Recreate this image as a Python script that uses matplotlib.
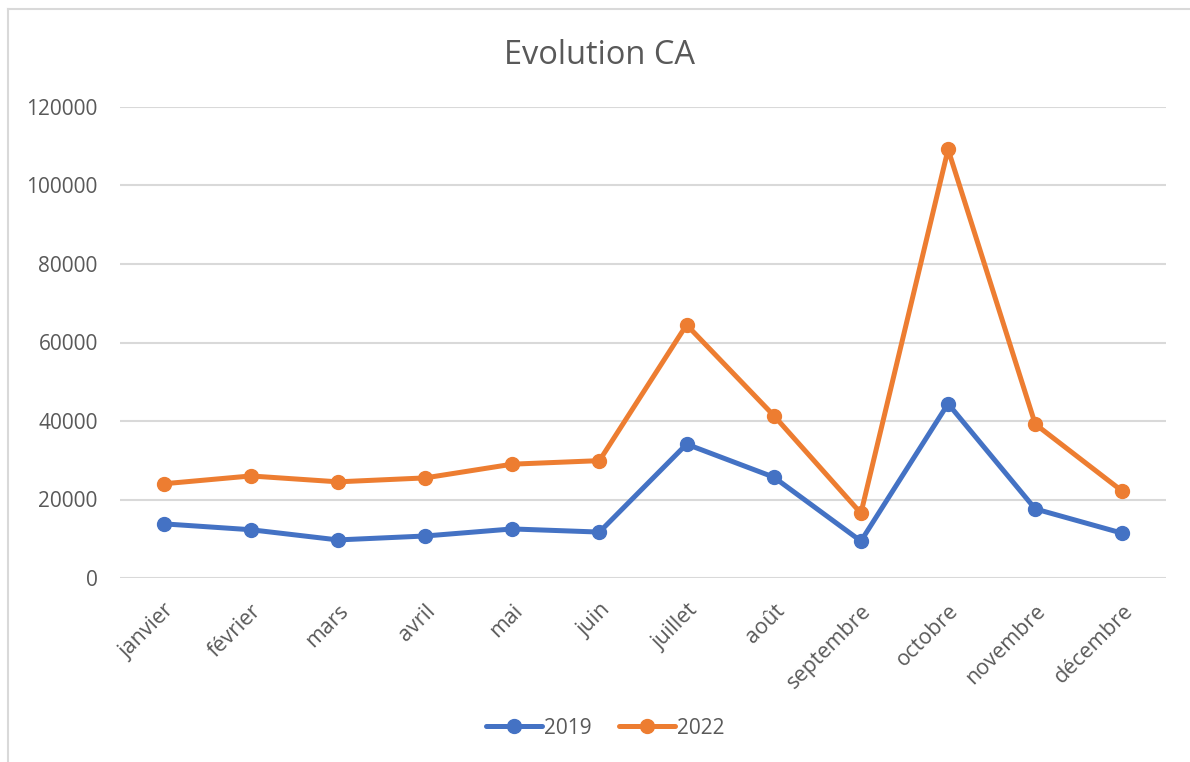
import matplotlib
matplotlib.use('Agg')
import matplotlib.pyplot as plt
from matplotlib.lines import Line2D

# monthly turnover (CA), two years compared
months = ['janvier', 'février', 'mars', 'avril', 'mai', 'juin',
          'juillet', 'août', 'septembre', 'octobre', 'novembre', 'décembre']
ca_2019 = [13800, 12300, 9700, 10700, 12500, 11700, 34100, 25700, 9400, 44400, 17600, 11400]
ca_2022 = [24000, 26000, 24500, 25500, 29000, 29900, 64500, 41400, 16500, 109200, 39200, 22100]
yticks = [0, 20000, 40000, 60000, 80000, 100000, 120000]

blue = '#4472C4'
orange = '#ED7D31'
grey_txt = '#595959'
grid_col = '#D9D9D9'

plt.rcParams['font.family'] = ['Open Sans', 'DejaVu Sans']

fig = plt.figure(figsize=(11.9, 7.62), dpi=100)
ax = fig.add_axes([120/1190, 1 - 578/762, 1046/1190, 471/762])

x = list(range(len(months)))
ax.plot(x, ca_2019, color=blue, lw=3.6, marker='o', ms=10, solid_capstyle='round', label='2019', zorder=3)
ax.plot(x, ca_2022, color=orange, lw=3.6, marker='o', ms=10, solid_capstyle='round', label='2022', zorder=3)

ax.set_xlim(-0.5, len(months) - 0.5)
ax.set_ylim(0, 120000)
ax.set_yticks(yticks)
ax.set_yticklabels([str(v) for v in yticks])
ax.yaxis.grid(True, color=grid_col, lw=1.5)
ax.set_axisbelow(True)
for s in ax.spines.values():
    s.set_visible(False)
ax.tick_params(axis='both', length=0, labelsize=15, labelcolor=grey_txt)
ax.tick_params(axis='y', pad=16)
ax.set_xticks(x)
ax.set_xticklabels(months, rotation=45, ha='right', va='top', rotation_mode='anchor')
ax.tick_params(axis='x', pad=16, labelsize=15.5)

fig.text(0.504, 1 - 55/762, 'Evolution CA', ha='center', va='center', fontsize=23.5, color=grey_txt)

handles = [Line2D([], [], color=blue, lw=3.6, marker='o', ms=10, solid_capstyle='round'),
           Line2D([], [], color=orange, lw=3.6, marker='o', ms=10, solid_capstyle='round')]
fig.legend(handles, ['2019', '2022'], loc='center', bbox_to_anchor=(605/1190, 1 - 728/762),
           ncol=2, frameon=False, fontsize=15, labelcolor=grey_txt,
           handlelength=2.7, handletextpad=0.1, columnspacing=1.3)

# chart border (left and top edges)
fig.add_artist(Line2D([7.5/1190, 7.5/1190], [0, 1 - 9/762], transform=fig.transFigure, color=grid_col, lw=1.5))
fig.add_artist(Line2D([7.5/1190, 1], [1 - 9/762, 1 - 9/762], transform=fig.transFigure, color=grid_col, lw=1.5))

fig.savefig('out.png', dpi=100, facecolor='white')
